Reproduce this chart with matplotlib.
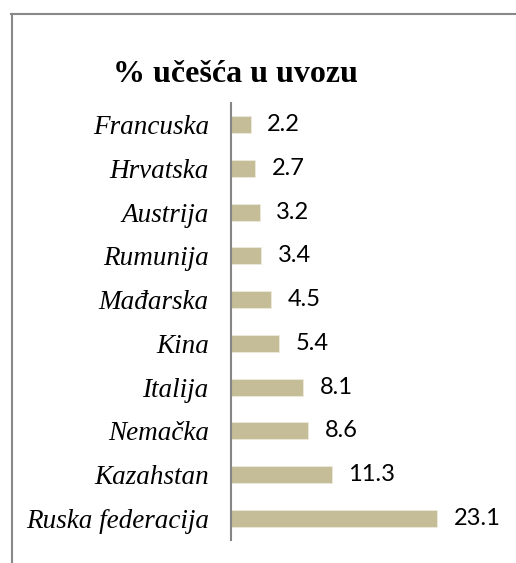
import matplotlib.pyplot as plt
from matplotlib.lines import Line2D

countries = ["Ruska federacija", "Kazahstan", "Nemačka", "Italija", "Kina",
             "Mađarska", "Rumunija", "Austrija", "Hrvatska", "Francuska"]
shares = [23.1, 11.3, 8.6, 8.1, 5.4, 4.5, 3.4, 3.2, 2.7, 2.2]
title = "% učešća u uvozu"

W, H = 516, 563
fig = plt.figure(figsize=(W / 100, H / 100), dpi=100)
fig.patch.set_facecolor("white")

# axes in pixel terms: left 231, right 500, top 103, bottom 540
ax = fig.add_axes([231 / W, 1 - 540 / H, (500 - 231) / W, (540 - 103) / H])
bars = ax.barh(range(len(countries)), shares, height=0.39,
               color="#C4BD97", edgecolor="#EEEBDD", linewidth=0.6)
ax.set_xlim(0, (500 - 231) / 8.92)
ax.set_ylim(-0.5, len(countries) - 0.5)

ax.set_yticks(range(len(countries)))
ax.set_yticklabels(countries, family="Liberation Serif", style="italic", fontsize=19.5)
ax.tick_params(axis="y", length=0, pad=16)
ax.set_xticks([])
for s in ["top", "right", "bottom"]:
    ax.spines[s].set_visible(False)
ax.spines["left"].set_color("#868686")
ax.spines["left"].set_linewidth(1.5)

ax.bar_label(bars, labels=[f"{v:.1f}" for v in shares], padding=12,
             family="Lato", fontsize=17)

fig.text(235 / W, 1 - 75 / H, title, ha="center", va="center",
         family="Liberation Serif", weight="bold", fontsize=23)

# bottom of the caption above the frame, cut off by the crop (as in the reference)
fig.text(268 / W, 1 + 5 / H, "g", ha="center", va="baseline",
         family="Liberation Serif", weight="bold", fontsize=19)

# frame around the chart (only left/top visible in the crop)
fig.add_artist(Line2D([11.5 / W, 11.5 / W], [0, 1 - 14 / H], transform=fig.transFigure,
                      color="#888888", linewidth=1.5))
fig.add_artist(Line2D([11 / W, 1], [1 - 14 / H, 1 - 14 / H], transform=fig.transFigure,
                      color="#888888", linewidth=1.5))

fig.savefig("out.png", dpi=100)
